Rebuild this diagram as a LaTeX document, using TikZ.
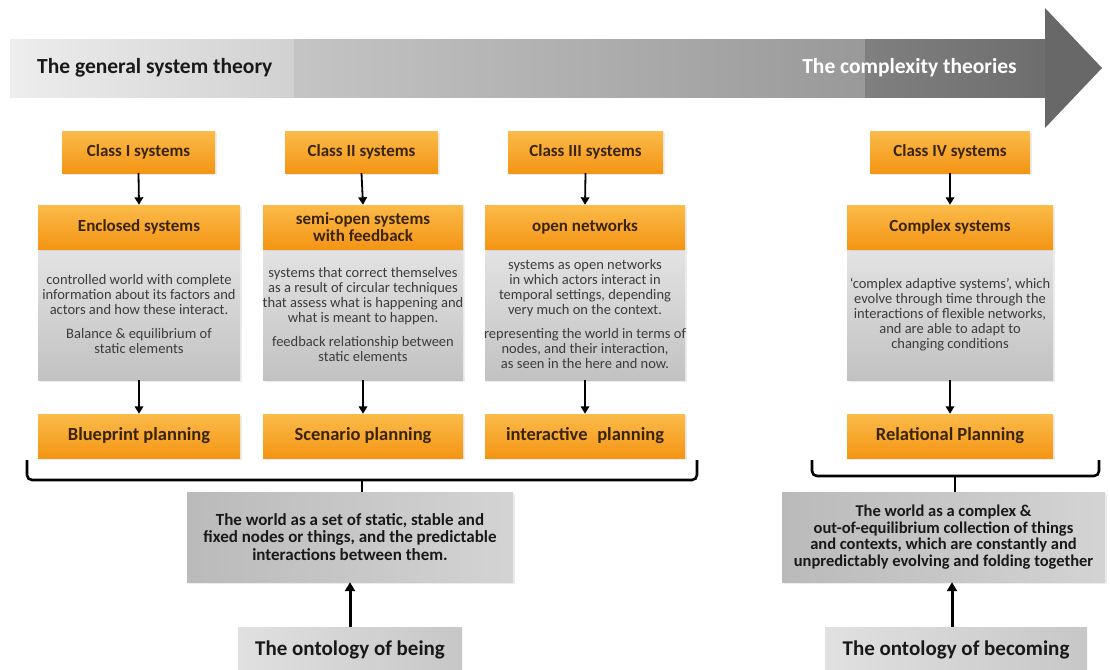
\documentclass[tikz,border=0pt]{standalone}
\usepackage{fontspec}
\setmainfont{Carlito}
\usetikzlibrary{arrows.meta,shadows}
\definecolor{orTop}{HTML}{FBBB4A}
\definecolor{orBot}{HTML}{F49514}
\definecolor{orText}{HTML}{3A2408}
\definecolor{descText}{HTML}{3C3C3C}
\definecolor{headGrey}{HTML}{686868}
\begin{document}
\begin{tikzpicture}[x=1pt,y=-1pt,
  orangebox/.style={draw=none, top color=orTop, bottom color=orBot, inner sep=0pt,
    align=center, text=orText, font=\bfseries\fontsize{17}{17.5}\selectfont,
    drop shadow={opacity=0.15, shadow xshift=1.5pt, shadow yshift=-1.5pt}},
  planbox/.style={orangebox, font=\bfseries\fontsize{18.5}{19}\selectfont},
  descbox/.style={draw=none, top color=black!11, bottom color=black!24, inner sep=0pt,
    drop shadow={opacity=0.15, shadow xshift=1.5pt, shadow yshift=-1.5pt}},
  desctext/.style={align=center, text=descText, inner sep=0pt,
    font=\fontsize{14.5}{15}\selectfont},
  worldbox/.style={draw=none, left color=black!27, right color=black!17, inner sep=0pt,
    align=center, text=black!90, font=\bfseries\fontsize{17}{17.5}\selectfont,
    drop shadow={opacity=0.15, shadow xshift=1.5pt, shadow yshift=-1.5pt}},
  ontobox/.style={draw=none, left color=black!12, right color=black!22, inner sep=0pt,
    text=black!90, font=\bfseries\fontsize{21}{22}\selectfont},
  flow/.style={draw=black, line width=1.8pt, -{Triangle[width=8.5pt,length=7.5pt]}},
  bigflow/.style={draw=black, line width=3pt, -{Triangle[width=10pt,length=9pt]}},
  bracestyle/.style={draw=black, line width=2.6pt, rounded corners=5pt},
  titletext/.style={inner sep=0pt, font=\bfseries\fontsize{21.5}{22}\selectfont}
]
\useasboundingbox (0,0) rectangle (1110,669);

% ---------- top timeline arrow ----------
\fill[left color=black!7, right color=black!18] (10,40) rectangle (294,97);
\fill[left color=black!23, right color=black!40] (294,40) rectangle (865,97);
\fill[left color=black!50, right color=black!57] (865,40) rectangle (1046,97);
\fill[headGrey] (1045,8) -- (1102,68) -- (1045,128) -- cycle;
\node[titletext, anchor=west, text=black!90] (gst) at (37,68) {The general system theory};
\node[titletext, anchor=east, text=white] (ct) at (1017,68) {The complexity theories};

% ---------- class boxes ----------
\node[orangebox, minimum width=153pt, minimum height=42pt] (c1) at (138.5,152) {Class I systems};
\node[orangebox, minimum width=153pt, minimum height=42pt] (c2) at (361.5,152) {Class II systems};
\node[orangebox, minimum width=155pt, minimum height=42pt] (c3) at (585.5,152) {Class III systems};
\node[orangebox, minimum width=160pt, minimum height=42pt] (c4) at (950,152) {Class IV systems};

% ---------- description boxes (grey) ----------
\node[descbox, minimum width=202pt, minimum height=131pt] (d1) at (139,314.5) {};
\node[descbox, minimum width=200pt, minimum height=131pt] (d2) at (363,314.5) {};
\node[descbox, minimum width=200pt, minimum height=131pt] (d3) at (585,314.5) {};
\node[descbox, minimum width=206pt, minimum height=131pt] (d4) at (950,314.5) {};

% ---------- header boxes ----------
\node[orangebox, minimum width=202pt, minimum height=44pt] (h1) at (139,227) {Enclosed systems};
\node[orangebox, minimum width=200pt, minimum height=44pt] (h2) at (363,227) {semi-open systems\\with feedback};
\node[orangebox, minimum width=200pt, minimum height=44pt] (h3) at (585,227) {open networks};
\node[orangebox, minimum width=206pt, minimum height=44pt] (h4) at (950,227) {Complex systems};

% ---------- description texts ----------
\node[desctext] (t1) at (d1.center) {controlled world with complete\\information about its factors and\\actors and how these interact.\\[9pt]Balance \& equilibrium of\\static elements};
\node[desctext] (t2) at (d2.center) {systems that correct themselves\\as a result of circular techniques\\that assess what is happening and\\what is meant to happen.\\[9pt]feedback relationship between\\static elements};
\node[desctext] (t3) at (d3.center) {systems as open networks\\in which actors interact in\\temporal settings, depending\\very much on the context.\\[9pt]representing the world in terms of\\nodes, and their interaction,\\as seen in the here and now.};
\node[desctext] (t4) at (d4.center) {‘complex adaptive systems’, which\\evolve through time through the\\interactions of flexible networks,\\and are able to adapt to\\changing conditions};

% ---------- planning boxes ----------
\node[planbox, minimum width=202pt, minimum height=44pt] (p1) at (139,436) {Blueprint planning};
\node[planbox, minimum width=200pt, minimum height=44pt] (p2) at (363,436) {Scenario planning};
\node[planbox, minimum width=200pt, minimum height=44pt] (p3) at (585,436) {interactive\hspace{0.3em} planning};
\node[planbox, minimum width=206pt, minimum height=44pt] (p4) at (950,436) {Relational Planning};

% ---------- vertical flow arrows ----------
\foreach \i in {1,2,3,4} {
  \draw[flow] (c\i.south) -- (h\i.north);
  \draw[flow] (d\i.south) -- (p\i.north);
}

% ---------- world boxes ----------
\node[worldbox, minimum width=326pt, minimum height=90pt] (w1) at (350,537)
  {The world as a set of static, stable and\\fixed nodes or things, and the predictable\\interactions between them.};
\node[worldbox, minimum width=323pt, minimum height=90pt, font=\bfseries\fontsize{16.5}{16.5}\selectfont] (w2) at (943.5,537)
  {The world as a complex \&\\out-of-equilibrium collection of things\\and contexts, which are constantly and\\unpredictably evolving and folding together};

% ---------- braces ----------
\coordinate (bl) at (362,480);
\coordinate (br) at (955,476);
\draw[bracestyle] (27,460) -- (27,480) -- (697,480) -- (697,460);
\draw[draw=black, line width=2.6pt] (bl) -- (bl |- w1.north);
\draw[bracestyle] (812,460) -- (812,476) -- (1099,476) -- (1099,460);
\draw[draw=black, line width=2.6pt] (br) -- (br |- w2.north);

% ---------- ontology boxes ----------
\node[ontobox, minimum width=224pt, minimum height=54pt] (o1) at (350,654) {\raisebox{1.2ex}{The ontology of being}};
\node[ontobox, minimum width=262pt, minimum height=54pt] (o2) at (956,654) {\raisebox{1.2ex}{The ontology of becoming}};
\draw[bigflow] (o1.north) -- (w1.south);
\draw[bigflow] (o2.north -| 952,0) -- (952,0 |- w2.south);
\end{tikzpicture}
\end{document}
